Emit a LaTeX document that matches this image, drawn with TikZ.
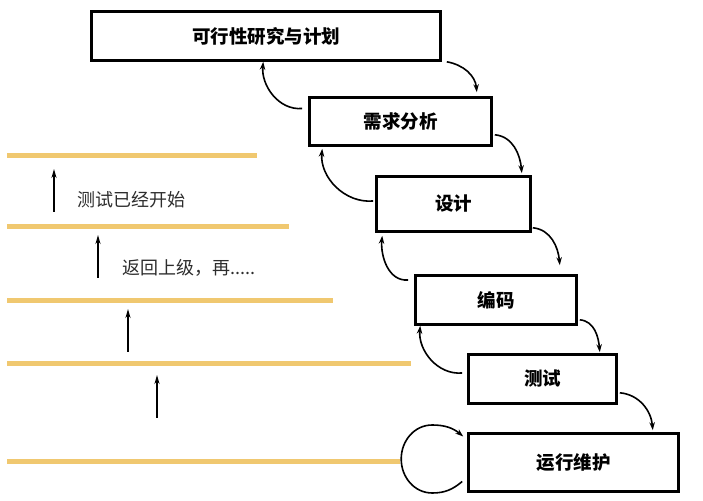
\documentclass[tikz,border=0pt]{standalone}
\usepackage{fontspec}
\newfontfamily\cjk{Noto Sans CJK SC}
\usetikzlibrary{arrows.meta,calc,positioning}
\definecolor{wf_gold}{RGB}{240,200,112}
\definecolor{wf_text}{RGB}{45,45,45}

\begin{document}
\begin{tikzpicture}[x=1pt,y=1pt,
    stage/.style={draw,line width=2.6pt,inner sep=0pt,font=\cjk\bfseries\fontsize{18.5}{20}\selectfont},
    flow/.style={line width=1.6pt,-{Stealth[length=8pt,width=5.5pt]}},
    rise/.style={line width=1.8pt,-{Stealth[length=9pt,width=5pt]}},
    note/.style={right,inner sep=0pt,text=wf_text,font=\cjk\fontsize{18}{20}\selectfont}]
          \useasboundingbox[fill=white] (0,0) rectangle (703,500);
          % stages of the waterfall
          \node[stage,minimum width=349pt,minimum height=49pt] (k1) at (266,464) {可行性研究与计划};
          \node[stage,minimum width=182pt,minimum height=48pt] (k2) at (400.5,378.5) {需求分析};
          \node[stage,minimum width=154pt,minimum height=55pt] (k3) at (453.5,296) {设计};
          \node[stage,minimum width=161pt,minimum height=49pt] (k4) at (496,200) {编码};
          \node[stage,minimum width=148pt,minimum height=49pt] (k5) at (542.5,121) {测试};
          \node[stage,minimum width=210pt,minimum height=58pt] (k6) at (573.5,37.5) {运行维护};
          % forward steps
          \draw[flow] ($(k1.south east)+(5,0)$) to[out=-10,in=95] ($(k2.north east)+(-16,4)$);
          \draw[flow] ($(k2.south east)+(2,12)$) to[out=-5,in=95] ($(k3.north east)+(-10,2)$);
          \draw[flow] ($(k3.south east)+(1,5)$) to[out=-5,in=95] ($(k4.north east)+(-18,9)$);
          \draw[flow] ($(k4.south east)+(2,6)$) to[out=-5,in=95] ($(k5.north east)+(-18,1)$);
          \draw[flow] ($(k5.south east)+(2,12)$) to[out=-5,in=95] ($(k6.north east)+(-27,2)$);
          % back steps
          \draw[flow] ($(k2.west)+(-6,13)$) to[out=185,in=-95] ($(k1.south west)+(173,0)$);
          \draw[flow] ($(k3.west)+(-2,3)$) to[out=185,in=-95] ($(k2.south west)+(14,-2)$);
          \draw[flow] ($(k4.west)+(-6,20)$) to[out=185,in=-95] ($(k3.south west)+(7,-3)$);
          \draw[flow] ($(k5.west)+(-5,6)$) to[out=185,in=-95] ($(k4.south west)+(6,0)$);
          \draw[flow] ($(k6.west)+(-5,-19)$) to[out=-140,in=0] ($(k6.west)+(-35,-30.5)$)
                      to[out=180,in=-90] ($(k6.west)+(-66,3.5)$)
                      to[out=90,in=180] ($(k6.west)+(-35,37.5)$)
                      to[out=0,in=140] ($(k6.west)+(-4,26)$);
          % levels on the left
          \foreach \ly/\lx in {344/257,273/289,199/333,136/411,38/400}
            \draw[wf_gold,line width=5pt] (7,\ly)--(\lx,\ly);
          \foreach \ax/\ay in {54/288,98/222,128/148,157/82}
            \draw[rise] (\ax,\ay)--(\ax,\ay+43);
          \node[note] (t1) at (77,300) {测试已经开始};
          \node[note] (t2) at (122,232) {返回上级，再.....};
        \end{tikzpicture}
\end{document}
